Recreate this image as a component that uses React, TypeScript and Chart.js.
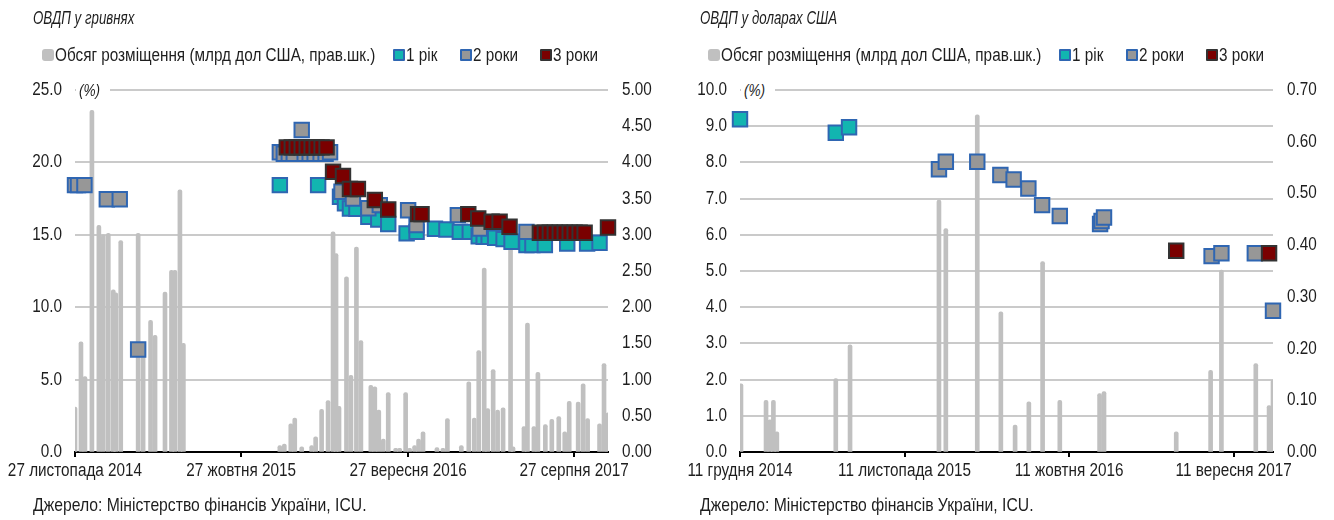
import React, { useEffect, useRef } from 'react';
import { Chart, registerables } from 'chart.js';

Chart.register(...registerables);

const FONT = "'Liberation Sans', Arial, sans-serif";
const SX = 0.85; // horizontal condensing to mimic a narrow typeface
const TEXT = '#1e1e1e';
const BAR_COLOR = '#C0C0C0';
const C1_FILL = '#12B5B0';
const C2_FILL = '#979797';
const C3_FILL = '#7A0000';
const BLUE_EDGE = '#2F66B2';
const DARK_EDGE = '#333333';

type Pt = [number, number];

// ---------- shared text ----------
const legendLabels = ['Обсяг розміщення (млрд дол США, прав.шк.)', '1 рік', '2 роки', '3 роки'];
const sourceText = 'Джерело: Міністерство фінансів України, ICU.';
const unitText = '(%)';

// ---------- left panel: UAH bonds (x = days since 27 Nov 2014) ----------
const uahTitle = 'ОВДП у гривнях';
const uahTickDays = [0, 334, 670, 1004];
const uahTickLabels = ['27 листопада 2014', '27 жовтня 2015', '27 вересня 2016', '27 серпня 2017'];
const uahXMax = 1072;
const uahVolume: Pt[] = [
  [0, 0.62], [12, 1.52], [20, 1.04], [34, 4.72], [48, 3.13], [57, 3.0], [67, 3.02], [77, 2.24], [82, 2.2],
  [92, 2.92], [127, 3.02], [137, 1.45], [152, 1.82], [161, 1.61], [181, 2.21], [194, 2.51], [201, 2.51],
  [211, 3.62], [218, 1.5],
  [412, 0.09], [421, 0.11], [434, 0.39], [442, 0.47], [456, 0.07], [476, 0.09], [484, 0.21], [496, 0.59],
  [509, 0.71], [519, 3.04], [525, 2.74], [531, 0.63], [546, 2.42], [555, 1.06], [566, 2.83], [575, 1.54],
  [595, 0.92], [603, 0.9], [611, 0.58], [620, 0.18], [630, 0.82], [645, 0.05], [653, 0.05], [665, 0.82],
  [673, 0.05], [683, 0.09], [691, 0.18], [700, 0.28], [728, 0.06], [740, 0.05], [749, 0.46], [777, 0.09],
  [792, 0.97], [803, 0.47], [812, 1.4], [823, 2.54], [830, 0.6], [841, 1.14], [850, 0.58], [861, 0.61],
  [876, 3.04], [881, 0.07], [903, 0.35], [910, 1.78], [923, 0.35], [931, 1.1], [946, 0.38], [959, 0.45],
  [973, 0.49], [985, 0.28], [994, 0.7], [1012, 0.69], [1022, 0.94], [1031, 0.46], [1055, 0.39],
  [1064, 1.22], [1072, 0.54],
];
const uah1y: Pt[] = [
  [412, 18.43], [489, 18.43], [533, 17.63], [543, 17.17], [553, 16.82], [566, 16.8], [590, 16.24],
  [610, 16.06], [630, 15.74], [667, 15.1], [687, 15.2], [724, 15.42], [747, 15.37], [774, 15.2],
  [794, 15.2], [812, 14.9], [822, 14.86], [832, 14.86], [845, 14.8], [862, 14.7], [878, 14.52],
  [908, 14.29], [920, 14.3], [945, 14.29], [990, 14.4], [1030, 14.4], [1055, 14.45],
];
const uah2y: Pt[] = [
  [0, 18.43], [6, 18.43], [19, 18.43], [64, 17.45], [90, 17.45], [127, 7.08],
  [412, 20.7], [420, 20.6], [430, 20.6], [440, 20.6], [456, 22.24], [462, 20.6], [472, 20.6], [482, 20.6],
  [494, 20.6], [504, 20.6], [513, 20.7], [536, 17.97], [559, 17.51], [590, 16.83], [613, 17.05],
  [670, 16.7], [687, 15.67], [770, 16.36], [814, 15.44], [908, 15.2],
];
const uah3y: Pt[] = [
  [426, 21.04], [436, 21.04], [446, 21.04], [456, 21.04], [466, 21.04], [476, 21.04], [486, 21.04],
  [496, 21.04], [506, 21.04], [519, 19.35], [539, 19.06], [553, 18.16], [569, 18.16], [603, 17.4],
  [630, 16.75], [690, 16.43], [697, 16.43], [791, 16.43], [811, 16.13], [838, 15.9], [854, 15.9],
  [874, 15.55], [935, 15.14], [945, 15.14], [955, 15.14], [965, 15.14], [975, 15.14], [985, 15.14],
  [995, 15.14], [1005, 15.14], [1015, 15.14], [1025, 15.14], [1072, 15.51],
];

// ---------- right panel: USD bonds (x = days since 11 Dec 2014) ----------
const usdTitle = 'ОВДП у доларах США';
const usdTickDays = [0, 335, 670, 1005];
const usdTickLabels = ['11 грудня 2014', '11 листопада 2015', '11 жовтня 2016', '11 вересня 2017'];
const usdXMax = 1085;
const usdVolume: Pt[] = [
  [2, 0.132], [53, 0.1], [61, 0.062], [68, 0.1], [75, 0.039], [195, 0.142], [224, 0.207], [405, 0.487],
  [419, 0.432], [483, 0.652], [531, 0.271], [560, 0.052], [588, 0.097], [616, 0.368], [651, 0.1],
  [732, 0.113], [741, 0.117], [888, 0.039], [958, 0.158], [980, 0.352], [1050, 0.171], [1077, 0.09],
  [1085, 0.139],
];
const usd1y: Pt[] = [[0, 9.19], [195, 8.82], [222, 8.97]];
const usd2y: Pt[] = [
  [405, 7.81], [419, 8.02], [483, 8.02], [530, 7.65], [557, 7.53], [587, 7.28], [615, 6.82], [651, 6.52],
  [733, 6.3], [736, 6.38], [741, 6.48], [960, 5.41], [980, 5.49], [1048, 5.49], [1085, 3.9],
];
const usd3y: Pt[] = [[888, 5.56], [1077, 5.49]];

type PanelCfg = {
  tickDays: number[];
  tickLabels: string[];
  xMax: number;
  yMax: number;
  yStep: number;
  yDec: number;
  y1Max: number;
  y1Step: number;
  y1Dec: number;
  volume: Pt[];
  s1: Pt[];
  s2: Pt[];
  s3: Pt[];
  leftW: number;
  rightW: number;
};

const toXY = (arr: Pt[]) => arr.map(([x, y]) => ({ x, y }));

function marker(label: string, data: Pt[], fill: string, edge: string, order: number) {
  return {
    type: 'scatter' as const,
    label,
    data: toXY(data),
    yAxisID: 'y',
    order,
    pointStyle: 'rect',
    pointRadius: 10.2,
    pointBorderWidth: 2,
    backgroundColor: fill,
    borderColor: edge,
    pointBackgroundColor: fill,
    pointBorderColor: edge,
    showLine: false,
    clip: false,
  };
}

// Draw canvas text horizontally condensed around its anchor point.
function condenseText(ctx: CanvasRenderingContext2D) {
  const anyCtx = ctx as any;
  if (anyCtx.__condensed) return;
  const orig = ctx.fillText.bind(ctx);
  anyCtx.fillText = (text: string, x: number, y: number, maxWidth?: number) => {
    ctx.save();
    ctx.translate(x, y);
    ctx.scale(SX, 1);
    if (maxWidth === undefined) orig(text, 0, 0);
    else orig(text, 0, 0, maxWidth / SX);
    ctx.restore();
  };
  anyCtx.__condensed = true;
}

function ChartCanvas({ cfg }: { cfg: PanelCfg }) {
  const ref = useRef<HTMLCanvasElement | null>(null);
  useEffect(() => {
    const canvas = ref.current;
    if (!canvas) return;
    const ctx = canvas.getContext('2d');
    if (ctx) condenseText(ctx);
    const tickFont = { family: FONT, size: 18 };
    const chart = new Chart(canvas, {
      type: 'bar',
      data: {
        datasets: [
          {
            type: 'bar',
            label: legendLabels[0],
            data: toXY(cfg.volume) as any,
            yAxisID: 'y1',
            order: 10,
            backgroundColor: BAR_COLOR,
            barThickness: 4,
            borderRadius: { topLeft: 2, topRight: 2, bottomLeft: 0, bottomRight: 0 },
            borderSkipped: 'bottom',
          } as any,
          marker(legendLabels[1], cfg.s1, C1_FILL, BLUE_EDGE, 3) as any,
          marker(legendLabels[2], cfg.s2, C2_FILL, BLUE_EDGE, 2) as any,
          marker(legendLabels[3], cfg.s3, C3_FILL, DARK_EDGE, 1) as any,
        ],
      },
      options: {
        animation: false,
        responsive: false,
        maintainAspectRatio: false,
        devicePixelRatio: 1,
        events: [],
        layout: { padding: { top: 90, left: 0, right: 0, bottom: 0 } },
        plugins: {
          legend: { display: false },
          title: { display: false },
          tooltip: { enabled: false },
        },
        scales: {
          x: {
            type: 'linear',
            position: 'bottom',
            offset: false,
            min: 0,
            max: cfg.xMax,
            afterBuildTicks: (s: any) => {
              s.ticks = cfg.tickDays.map((v) => ({ value: v }));
            },
            afterFit: (s: any) => {
              s.height = 68;
              s.paddingLeft = 0;
              s.paddingRight = 0;
            },
            ticks: {
              autoSkip: false,
              maxRotation: 0,
              minRotation: 0,
              padding: 3,
              color: TEXT,
              font: tickFont,
              callback: (_v: any, i: number) => cfg.tickLabels[i],
            },
            grid: {
              drawOnChartArea: false,
              drawTicks: true,
              tickLength: 5,
              offset: false,
              color: '#000',
              lineWidth: 2,
            },
            border: { display: true, color: '#000', width: 2 },
          },
          y: {
            type: 'linear',
            position: 'left',
            min: 0,
            max: cfg.yMax,
            afterFit: (s: any) => {
              s.width = cfg.leftW;
            },
            ticks: {
              stepSize: cfg.yStep,
              padding: 13,
              color: TEXT,
              font: tickFont,
              callback: (v: any) => Number(v).toFixed(cfg.yDec),
            },
            grid: { color: '#CACACA', lineWidth: 2, drawTicks: false },
            border: { display: false },
          },
          y1: {
            type: 'linear',
            position: 'right',
            min: 0,
            max: cfg.y1Max,
            afterFit: (s: any) => {
              s.width = cfg.rightW;
            },
            ticks: {
              stepSize: cfg.y1Step,
              padding: 14,
              color: TEXT,
              font: tickFont,
              callback: (v: any) => Number(v).toFixed(cfg.y1Dec),
            },
            grid: { drawOnChartArea: false, drawTicks: false },
            border: { display: false },
          },
        },
      } as any,
    });
    return () => chart.destroy();
  }, [cfg]);
  return (
    <canvas
      ref={ref}
      width={667}
      height={520}
      style={{ position: 'absolute', left: 0, top: 0, width: 667, height: 520 }}
    />
  );
}

function Narrow({ children, style, sx = SX }: { children: React.ReactNode; style?: React.CSSProperties; sx?: number }) {
  return (
    <span
      style={{
        display: 'inline-block',
        transform: `scaleX(${sx})`,
        transformOrigin: '0 50%',
        fontFamily: FONT,
        color: TEXT,
        whiteSpace: 'nowrap',
        ...style,
      }}
    >
      {children}
    </span>
  );
}

const legendBoxOffsets = [0, 351, 418, 498];

function Legend({ left }: { left: number }) {
  const items = [
    { bg: BAR_COLOR, border: 'none', radius: 3 },
    { bg: C1_FILL, border: `2px solid ${BLUE_EDGE}`, radius: 1 },
    { bg: C2_FILL, border: `2px solid ${BLUE_EDGE}`, radius: 1 },
    { bg: C3_FILL, border: `2px solid ${DARK_EDGE}`, radius: 1 },
  ];
  return (
    <div style={{ position: 'absolute', left, top: 44, height: 22, width: 600 }}>
      {items.map((it, i) => (
        <div
          key={i}
          style={{ position: 'absolute', left: legendBoxOffsets[i], top: 0, height: 22, display: 'flex', alignItems: 'center' }}
        >
          <span
            style={{
              display: 'inline-block',
              width: 12,
              height: 12,
              boxSizing: 'border-box',
              background: it.bg,
              border: it.border,
              borderRadius: it.radius,
              marginRight: 1,
            }}
          />
          <Narrow style={{ fontSize: 18, lineHeight: '22px' }}>{legendLabels[i]}</Narrow>
        </div>
      ))}
    </div>
  );
}

function Panel({ left, title, cfg, legendLeft }: { left: number; title: string; cfg: PanelCfg; legendLeft: number }) {
  return (
    <div style={{ position: 'absolute', left, top: 0, width: 667, height: 520 }}>
      <ChartCanvas cfg={cfg} />
      <div style={{ position: 'absolute', left: 33, top: 7, lineHeight: '22px' }}>
        <Narrow sx={0.76} style={{ fontStyle: 'italic', fontSize: 17.5 }}>{title}</Narrow>
      </div>
      <Legend left={legendLeft} />
      <div
        style={{
          position: 'absolute',
          left: cfg.leftW + 1,
          top: 81,
          width: 34,
          height: 20,
          background: '#fff',
          lineHeight: '20px',
        }}
      >
        <Narrow style={{ fontStyle: 'italic', fontSize: 16, marginLeft: 3 }}>{unitText}</Narrow>
      </div>
      <div style={{ position: 'absolute', left: 33, top: 494, lineHeight: '22px' }}>
        <Narrow style={{ fontSize: 18.5 }}>{sourceText}</Narrow>
      </div>
    </div>
  );
}

const uahCfg: PanelCfg = {
  tickDays: uahTickDays,
  tickLabels: uahTickLabels,
  xMax: uahXMax,
  yMax: 25,
  yStep: 5,
  yDec: 1,
  y1Max: 5,
  y1Step: 0.5,
  y1Dec: 2,
  volume: uahVolume,
  s1: uah1y,
  s2: uah2y,
  s3: uah3y,
  leftW: 75,
  rightW: 59,
};

const usdCfg: PanelCfg = {
  tickDays: usdTickDays,
  tickLabels: usdTickLabels,
  xMax: usdXMax,
  yMax: 10,
  yStep: 1,
  yDec: 1,
  y1Max: 0.7,
  y1Step: 0.1,
  y1Dec: 2,
  volume: usdVolume,
  s1: usd1y,
  s2: usd2y,
  s3: usd3y,
  leftW: 73,
  rightW: 61,
};

export default function App() {
  return (
    <div style={{ position: 'absolute', left: 0, top: 0, width: 1334, height: 520, background: '#fff', overflow: 'hidden' }}>
      <Panel left={0} title={uahTitle} cfg={uahCfg} legendLeft={42} />
      <Panel left={667} title={usdTitle} cfg={usdCfg} legendLeft={41} />
    </div>
  );
}
